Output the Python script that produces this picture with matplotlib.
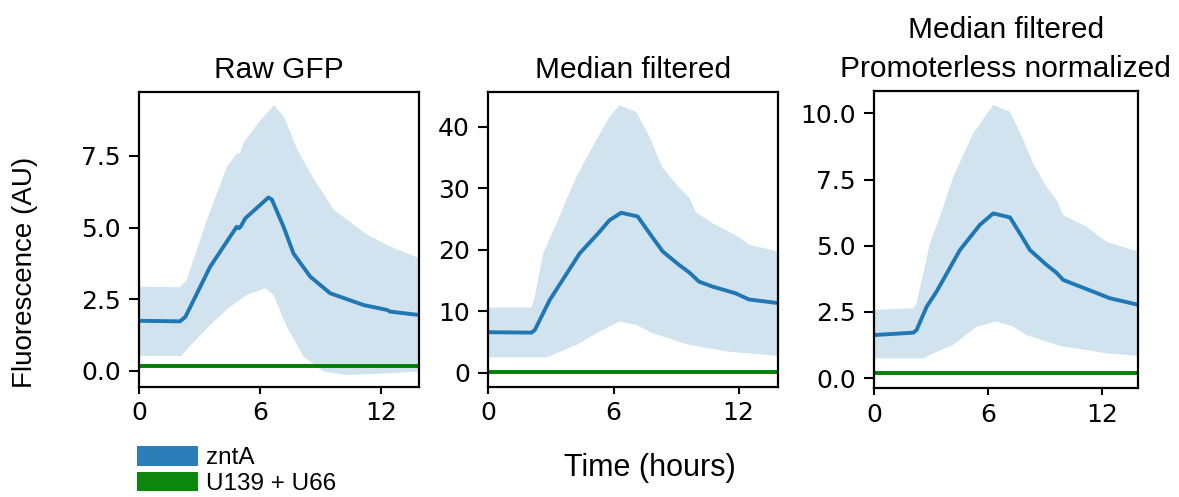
import matplotlib.pyplot as plt
from matplotlib.patches import Patch

plt.rcParams['font.family'] = ['Liberation Sans', 'DejaVu Sans']
plt.rcParams['font.size'] = 18

# panel 1: raw GFP
raw_t = [0, 2.03, 2.3, 3.52, 4.84, 4.95, 5.05, 5.26, 6.41, 6.58, 7.16, 7.65, 8.48, 9.47, 11.12, 12.28, 12.44, 13.9]
raw_mean = [1.75, 1.73, 1.89, 3.63, 5.03, 4.98, 5.05, 5.32, 6.05, 5.98, 5.03, 4.10, 3.29, 2.71, 2.30, 2.13, 2.07, 1.95]
raw_up_t = [0, 2.03, 2.36, 3.36, 4.35, 4.84, 5.0, 5.2, 6.03, 6.69, 7.19, 7.85, 8.68, 9.67, 11.33, 12.48, 13.9]
raw_up = [2.94, 2.92, 3.17, 5.26, 7.12, 7.58, 7.6, 7.99, 8.75, 9.27, 8.86, 7.70, 6.66, 5.61, 4.74, 4.33, 3.93]
raw_lo_t = [0, 2.1, 2.5, 3.52, 4.51, 5.34, 6.25, 6.66, 7.32, 8.15, 9.14, 10.3, 12.45, 13.9]
raw_lo = [0.52, 0.52, 0.85, 1.60, 2.24, 2.65, 2.88, 2.65, 1.54, 0.50, -0.02, -0.14, -0.08, -0.02]
raw_ctrl = 0.18

# panel 2: median filtered
med_t = [0, 2.07, 2.23, 2.94, 4.38, 5.33, 5.81, 6.37, 7.16, 7.72, 8.36, 9.15, 9.63, 10.1, 10.74, 11.85, 12.49, 13.9]
med_mean = [6.57, 6.5, 6.94, 11.8, 19.4, 22.9, 24.8, 26.0, 25.4, 22.7, 19.7, 17.5, 16.3, 14.8, 14.0, 12.9, 11.9, 11.3]
med_up_t = [0, 2.07, 2.23, 2.63, 3.27, 4.22, 5.17, 5.81, 6.29, 7.09, 7.72, 8.36, 9.15, 9.63, 9.95, 10.74, 12.0, 12.49, 13.9]
med_up = [10.6, 10.6, 12.4, 19.4, 24.3, 31.9, 37.8, 41.6, 43.5, 42.4, 38.4, 33.3, 30.1, 28.5, 26.1, 24.3, 22.1, 20.8, 19.7]
med_lo_t = [0, 2.78, 3.27, 4.22, 5.33, 6.29, 7.09, 7.88, 9.63, 11.5, 13.9]
med_lo = [2.5, 2.45, 3.15, 4.5, 6.67, 8.3, 7.76, 6.4, 4.5, 3.41, 2.7]
med_ctrl = 0.05

# panel 3: median filtered, promoterless normalized
norm_t = [0, 2.07, 2.24, 2.77, 3.29, 4.52, 5.57, 6.27, 7.15, 7.67, 8.2, 9.07, 9.6, 9.95, 11.52, 12.4, 13.9]
norm_mean = [1.63, 1.72, 1.82, 2.70, 3.27, 4.84, 5.79, 6.22, 6.07, 5.47, 4.84, 4.28, 3.98, 3.71, 3.27, 3.02, 2.77]
norm_up_t = [0, 2.07, 2.24, 2.94, 3.47, 4.17, 5.22, 6.27, 7.15, 7.85, 8.37, 9.07, 9.6, 9.95, 11.17, 12.22, 13.9]
norm_up = [2.58, 2.64, 2.83, 5.09, 6.10, 7.61, 9.25, 10.31, 10.06, 9.0, 8.11, 7.23, 6.73, 6.16, 5.72, 5.15, 4.78]
norm_lo_t = [0, 2.6, 3.12, 4.17, 5.4, 6.45, 7.32, 8.02, 9.77, 12.22, 13.9]
norm_lo = [0.75, 0.75, 0.94, 1.26, 1.95, 2.14, 1.95, 1.63, 1.22, 0.94, 0.84]
norm_ctrl = 0.21

titles = ['Raw GFP', 'Median filtered', 'Median filtered\nPromoterless normalized']
labels = ['zntA', 'U139 + U66']
xticks = [0, 6, 12]

panels = [
    (raw_t, raw_mean, raw_up_t, raw_up, raw_lo_t, raw_lo, raw_ctrl, (-0.56, 9.73), [0.0, 2.5, 5.0, 7.5]),
    (med_t, med_mean, med_up_t, med_up, med_lo_t, med_lo, med_ctrl, (-2.3, 45.7), [0, 10, 20, 30, 40]),
    (norm_t, norm_mean, norm_up_t, norm_up, norm_lo_t, norm_lo, norm_ctrl, (-0.38, 10.84), [0.0, 2.5, 5.0, 7.5, 10.0]),
]
boxes = [
    [0.1179, 0.2213, 0.2375, 0.5936],
    [0.4142, 0.2219, 0.2454, 0.5936],
    [0.7413, 0.2187, 0.2237, 0.5982],
]

fig = plt.figure(figsize=(11.79, 4.97), dpi=100)
for i, (t, m, ut, u, lt, lo, ctrl, ylim, yt) in enumerate(panels):
    ax = fig.add_axes(boxes[i])
    ax.fill(ut + lt[::-1], u + lo[::-1], color='C0', alpha=0.2, lw=0)
    ax.plot(t, m, color='C0', lw=2.8)
    ax.plot([0, 13.9], [ctrl, ctrl], color='green', lw=2.8)
    ax.set_xlim(0, 13.87)
    ax.set_ylim(*ylim)
    ax.set_xticks(xticks)
    ax.set_yticks(yt)
    if i == 1:
        ax.set_yticklabels([str(v) for v in yt])
    else:
        ax.set_yticklabels(['%.1f' % v for v in yt])
    for lab in ax.get_xticklabels() + ax.get_yticklabels():
        lab.set_fontfamily('DejaVu Sans')
        lab.set_fontsize(18)
    if i == 2:
        ax.set_title(titles[i], fontsize=21.5, pad=10, linespacing=1.5)
    else:
        ax.set_title(titles[i], fontsize=21.5, pad=10)
    ax.tick_params(axis='y', width=1.5, length=7.2, pad=6)
    ax.tick_params(axis='x', width=1.5, length=5.3, pad=5)
    for s in ax.spines.values():
        s.set_linewidth(1.6)
    if i == 0:
        ax.set_ylabel('Fluorescence (AU)', fontsize=20)
        ax.yaxis.set_label_coords(-0.36, 0.39)

fig.text(0.551, 0.058, 'Time (hours)', fontsize=22, ha='center', va='center')
handles = [Patch(color='C0', alpha=0.95, lw=0), Patch(color='green', alpha=0.95, lw=0)]
fig.legend(handles, labels, loc='lower left', bbox_to_anchor=(0.116, 0.004),
           frameon=False, fontsize=17.5, handlelength=2.5, handleheight=0.85,
           handletextpad=0.35, labelspacing=0.1, borderpad=0.0, borderaxespad=0.0)

fig.savefig('out.png', dpi=100)
